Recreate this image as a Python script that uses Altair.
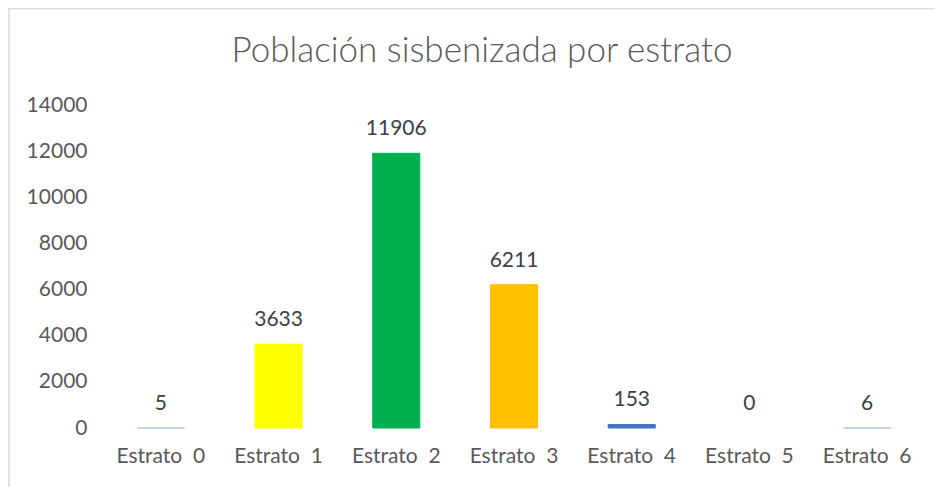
import altair as alt
import pandas as pd

categories = ["Estrato\u00a0\u00a00", "Estrato\u00a0\u00a01", "Estrato\u00a0\u00a02", "Estrato\u00a0\u00a03",
              "Estrato\u00a0\u00a04", "Estrato\u00a0\u00a05", "Estrato\u00a0\u00a06"]
values = [5, 3633, 11906, 6211, 153, 0, 6]
colors = ["#B4C7E7", "#FFFF00", "#00B050", "#FFC000", "#4472C4", "#FFFFFF", "#B4C7E7"]
y_ticks = [0, 2000, 4000, 6000, 8000, 10000, 12000, 14000]
title_text = ["Población sisbenizada por estrato"]

df = pd.DataFrame({"cat": categories, "val": values})
FONT = "Lato"
GREY = "#595959"

color_scale = alt.Scale(domain=categories, range=colors)

base = alt.Chart(df).encode(
    x=alt.X("cat:N", sort=categories, title=None,
            scale=alt.Scale(paddingInner=0.6, paddingOuter=0.3),
            axis=alt.Axis(labelAngle=0, domain=False, ticks=False, labelPadding=17,
                          labelFont=FONT, labelFontSize=21, labelColor=GREY)),
)

bars = base.mark_bar(strokeWidth=1).encode(
    y=alt.Y("val:Q", title=None,
            scale=alt.Scale(domain=[0, 14000], nice=False),
            axis=alt.Axis(values=y_ticks, grid=False, domain=False, ticks=False,
                          labelPadding=15, labelFont=FONT, labelFontSize=21,
                          labelColor=GREY, format="d")),
    color=alt.Color("cat:N", scale=color_scale, legend=None),
    stroke=alt.Stroke("cat:N", scale=color_scale, legend=None),
)

labels = base.mark_text(baseline="bottom", dy=-14, font=FONT, fontSize=21, color="#404040").encode(
    y=alt.Y("val:Q"),
    text=alt.Text("val:Q", format="d"),
)

border = alt.Chart(pd.DataFrame({"a": [0]})).mark_rect(
    fill=None, stroke="#D9D9D9", strokeWidth=1.5
).encode(x=alt.value(-93), x2=alt.value(900), y=alt.value(-96.5), y2=alt.value(420))

title = alt.Chart(pd.DataFrame({"t": title_text})).mark_text(
    font=FONT, fontSize=35, fontWeight=300, color=GREY, align="center", baseline="alphabetic"
).encode(x=alt.value(380), y=alt.value(-43), text="t:N")

chart = alt.layer(border, bars, labels, title).properties(
    width=824, height=323,
    autosize=alt.AutoSizeParams(type="none"),
    padding={"left": 94, "top": 97, "right": 9, "bottom": 59},
).configure_view(stroke=None)

chart.save("out.html", embed_options={"renderer": "svg", "actions": False})
